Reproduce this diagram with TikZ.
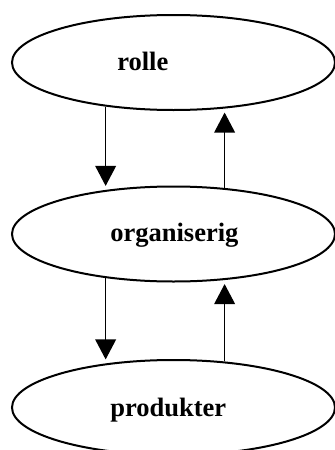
\documentclass[tikz,border=0pt]{standalone}
\usepackage{fontspec}
\setmainfont{Liberation Serif}
\usetikzlibrary{shapes.geometric, arrows.meta}

\begin{document}
\begin{tikzpicture}[x=0.75pt, y=-0.75pt,
  blob/.style={draw, ellipse, line width=1.5pt, inner sep=0pt, minimum width=242.25pt, minimum height=71.25pt},
  lbl/.style={inner sep=0pt, font=\fontsize{19.9}{24}\selectfont\bfseries},
  arr/.style={-{Triangle[width=15.5pt, length=15pt]}, line width=1.1pt, shorten >=3pt}]

\useasboundingbox (0, 0) rectangle (335, 450);

\node[blob] (rolle) at (173.5, 62.5) {};
\node[blob] (organ) at (173.5, 234) {};
\node[blob] (prod) at (173.5, 407.5) {};

\node[lbl, anchor=base west] (rolletxt) at ([shift={(-56.5, 8.2)}]rolle.center) {rolle};
\node[lbl, anchor=base west] (organtxt) at ([shift={(-63.5, 7.7)}]organ.center) {organiserig};
\node[lbl, anchor=base west] (prodtxt) at ([shift={(-63.5, 9)}]prod.center) {produkter};

\draw[arr] (rolle.213) -- (organ.147);
\draw[arr] (organ.42) -- (rolle.318);

\draw[arr] (organ.213) -- (prod.147);
\draw[arr] (prod.42) -- (organ.318);

\end{tikzpicture}
\end{document}
